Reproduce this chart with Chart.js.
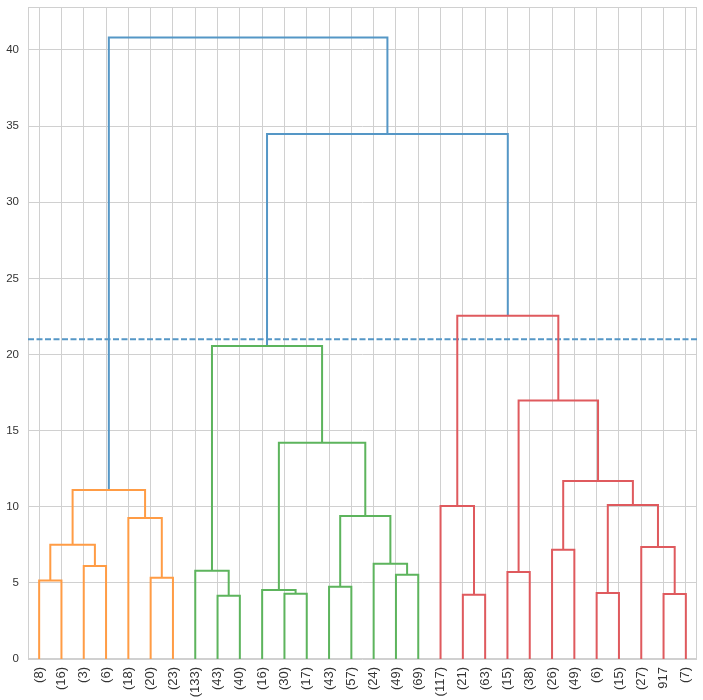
<!DOCTYPE html>
<html>
<head>
<meta charset="utf-8">
<script src="https://cdn.jsdelivr.net/npm/chart.js@4.4.0/dist/chart.umd.min.js"></script>
<style>
  html, body { margin: 0; padding: 0; background: #fff; }
  #wrap { width: 703px; height: 700px; }
</style>
</head>
<body>
<div id="wrap"><canvas id="dendro" width="703" height="700"></canvas></div>
<script>
// ── 데이터 ─────────────────────────────────────────────
// 잎 라벨 (왼쪽 → 오른쪽)
const leafLabels = [
  "(8)", "(16)", "(3)", "(6)", "(18)", "(20)", "(23)",
  "(133)", "(43)", "(40)", "(16)", "(30)", "(17)", "(43)", "(57)", "(24)", "(49)", "(69)",
  "(117)", "(21)", "(63)", "(15)", "(38)", "(26)", "(49)", "(6)", "(15)", "(27)", "917", "(7)"
];
// 병합: [왼쪽 id, 오른쪽 id, 높이]  (id >= 30 은 앞선 병합 결과)
const merges = [
  [0, 1, 5.15],   // 30
  [2, 3, 6.11],   // 31
  [30, 31, 7.5],  // 32
  [5, 6, 5.34],   // 33
  [4, 33, 9.26],  // 34
  [32, 34, 11.1], // 35
  [8, 9, 4.16],   // 36
  [7, 36, 5.8],   // 37
  [11, 12, 4.29], // 38
  [10, 38, 4.53], // 39
  [13, 14, 4.75], // 40
  [16, 17, 5.54], // 41
  [15, 41, 6.26], // 42
  [40, 42, 9.39], // 43
  [39, 43, 14.21],// 44
  [37, 44, 20.56],// 45
  [19, 20, 4.22], // 46
  [18, 46, 10.05],// 47
  [21, 22, 5.71], // 48
  [23, 24, 7.18], // 49
  [25, 26, 4.33], // 50
  [28, 29, 4.27], // 51
  [27, 51, 7.36], // 52
  [50, 52, 10.12],// 53
  [49, 53, 11.69],// 54
  [48, 54, 16.97],// 55
  [47, 55, 22.55],// 56
  [45, 56, 34.48],// 57
  [35, 57, 40.81] // 58
];
const cutHeight = 21;
const yTicks = [0, 5, 10, 15, 20, 25, 30, 35, 40];

// ── 스타일 ─────────────────────────────────────────────
const clusterColors = ["#ff9c45", "#5db45d", "#df5a5e"];
const aboveColor    = "#5597c6";
const gridColor     = "#d0d0d0";
const textColor     = "#333333";

// ── 좌표 계산 (scipy dendrogram 방식) ─────────────────
const n = leafLabels.length;
const pos = [];
for (let i = 0; i < n; i++) pos.push({ x: 10 * i + 5, h: 0 });
merges.forEach(([a, b, h]) => pos.push({ x: (pos[a].x + pos[b].x) / 2, h }));

const colorThreshold = 0.7 * Math.max(...merges.map(m => m[2]));
const linkColor = {};
let ci = 0;
function paint(id, color) {
  if (id < n) return;
  const [a, b, h] = merges[id - n];
  let c = color;
  if (!c && h < colorThreshold) c = clusterColors[ci++ % clusterColors.length];
  linkColor[id] = c || aboveColor;
  paint(a, c); paint(b, c);
}
paint(n + merges.length - 1, null);

const datasets = merges.map(([a, b, h], k) => ({
  data: [
    { x: pos[a].x, y: pos[a].h },
    { x: pos[a].x, y: h },
    { x: pos[b].x, y: h },
    { x: pos[b].x, y: pos[b].h }
  ],
  borderColor: linkColor[n + k],
  borderWidth: 2,
  showLine: true, pointRadius: 0, tension: 0
}));
datasets.push({
  data: [{ x: 0, y: cutHeight }, { x: 10 * n, y: cutHeight }],
  borderColor: aboveColor, borderWidth: 2, borderDash: [6, 2.5],
  showLine: true, pointRadius: 0
});

// ── 테두리 플러그인 ────────────────────────────────────
const framePlugin = {
  id: "frame",
  beforeDatasetsDraw(c) {
    const { ctx, chartArea: a } = c;
    ctx.save();
    ctx.strokeStyle = gridColor; ctx.lineWidth = 1;
    ctx.strokeRect(a.left + 0.5, a.top + 0.5, a.right - a.left - 1, a.bottom - a.top - 1);
    ctx.restore();
  }
};

// ── 차트 ───────────────────────────────────────────────
new Chart(document.getElementById("dendro").getContext("2d"), {
  type: "scatter",
  data: { datasets },
  options: {
    responsive: false, animation: false,
    layout: { padding: { left: 0, right: 6, top: 7, bottom: 0 } },
    plugins: { legend: { display: false }, tooltip: { enabled: false } },
    scales: {
      x: {
        type: "linear", min: 0, max: 10 * n,
        grid: { color: gridColor, drawTicks: false },
        border: { display: false },
        afterBuildTicks: (axis) => { axis.ticks = leafLabels.map((_, i) => ({ value: 10 * i + 5 })); },
        ticks: {
          color: textColor, padding: 8, autoSkip: false,
          minRotation: 90, maxRotation: 90,
          font: { family: "'Liberation Sans', Arial, sans-serif", size: 13 },
          callback: (v) => leafLabels[(v - 5) / 10]
        },
        afterFit: (axis) => { axis.height = 41; axis.paddingLeft = 0; axis.paddingRight = 0; }
      },
      y: {
        min: 0, max: 42.82,
        grid: { color: gridColor, drawTicks: false },
        border: { display: false },
        afterBuildTicks: (axis) => { axis.ticks = yTicks.map(v => ({ value: v })); },
        ticks: {
          color: textColor, padding: 9,
          font: { family: "'Liberation Sans', Arial, sans-serif", size: 11.5 }
        },
        afterFit: (axis) => { axis.width = 28; axis.paddingTop = 0; axis.paddingBottom = 0; }
      }
    }
  },
  plugins: [framePlugin]
});
</script>
</body>
</html>
